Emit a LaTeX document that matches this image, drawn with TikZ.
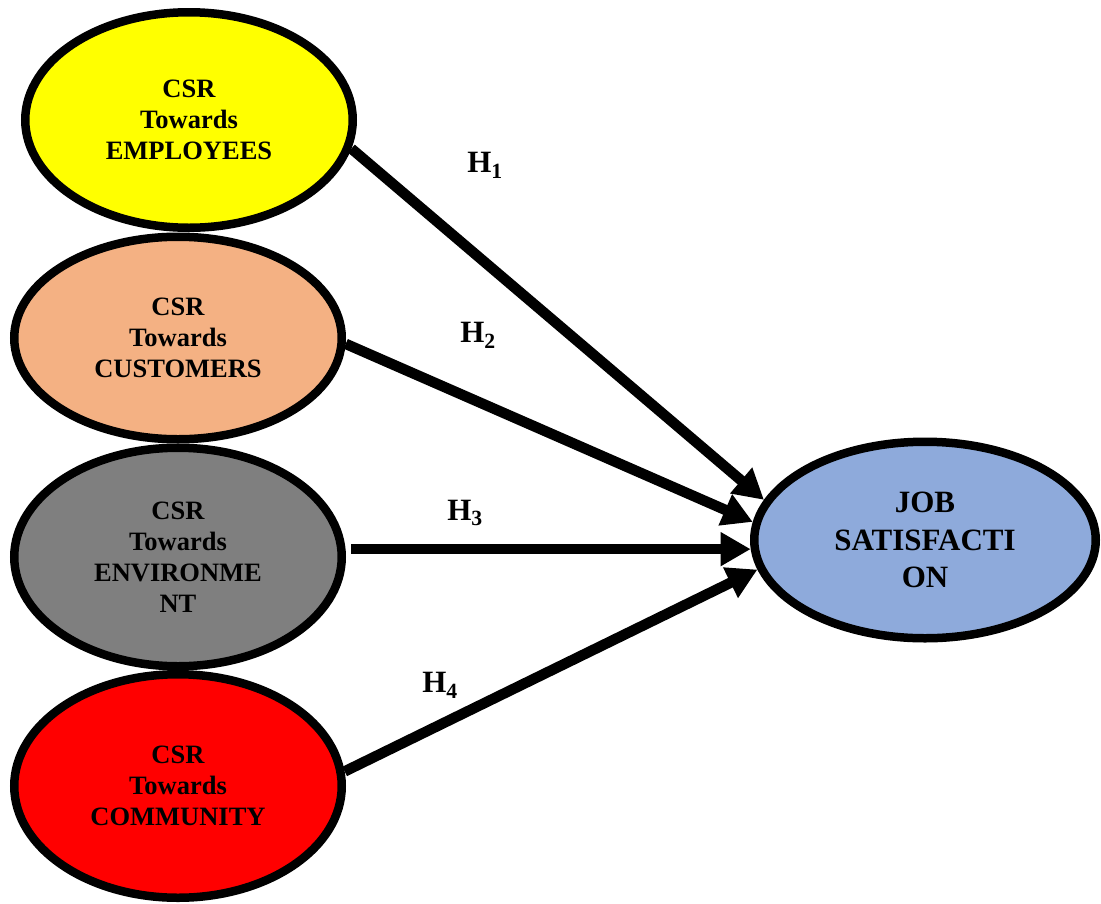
\documentclass[tikz,border=0pt]{standalone}
\usepackage{fontspec}
\setmainfont{Liberation Serif}
\usepackage{xcolor}
\usepackage{tikz}
\usetikzlibrary{math,shapes.geometric,arrows.meta}

\definecolor{empcol}{HTML}{FFFF00}
\definecolor{cuscol}{HTML}{F4B183}
\definecolor{envcol}{HTML}{7F7F7F}
\definecolor{comcol}{HTML}{FF0000}
\definecolor{jobcol}{HTML}{8EAADB}

\begin{document}
\begin{tikzpicture}[x=1pt,y=-1pt,
	blob/.style={ellipse,draw,line width=8.5pt,inner sep=0pt,align=center,
		font=\bfseries\fontsize{26.5}{31}\selectfont},
	hyp/.style={line width=10.5pt,-{Triangle[length=30pt,width=32pt]}},
	hlab/.style={font=\bfseries\fontsize{31}{37}\selectfont}]
\useasboundingbox (0,0) rectangle (1101,903);
\tikzmath{
	\w = 327.5;
	{\node[blob,fill=empcol,minimum width=\w,minimum height=215.5] (emp) at (189,120) {CSR\\Towards\\EMPLOYEES};};
	{\node[blob,fill=cuscol,minimum width=\w,minimum height=202.5] (cus) at (178,338) {CSR\\Towards\\CUSTOMERS};};
	{\node[blob,fill=envcol,minimum width=\w,minimum height=218.5] (env) at (178,557) {CSR\\Towards\\ENVIRONME\\NT};};
	{\node[blob,fill=comcol,minimum width=\w,minimum height=223.5] (com) at (178,786) {CSR\\Towards\\COMMUNITY};};
	{\node[blob,fill=jobcol,minimum width=341.5,minimum height=196.5,
		font=\bfseries\fontsize{31}{37.5}\selectfont] (job) at (925,540) {JOB\\SATISFACTI\\ON};};
	%
	{\draw[hyp] (emp.350) -- (job.166);};
	{\draw[hyp] (cus.358) -- (job.174);};
	{\draw[hyp] ([xshift=5pt]env.east |- job.183) -- (job.183);};
	{\draw[hyp] (com.5) -- (job.190);};
	%
	{\node[hlab] (h1) at (485,165) {H\textsubscript{1}};};
	{\node[hlab] (h2) at (478,335) {H\textsubscript{2}};};
	{\node[hlab] (h3) at (465,513) {H\textsubscript{3}};};
	{\node[hlab] (h4) at (440,685) {H\textsubscript{4}};};
};
\end{tikzpicture}
\end{document}
